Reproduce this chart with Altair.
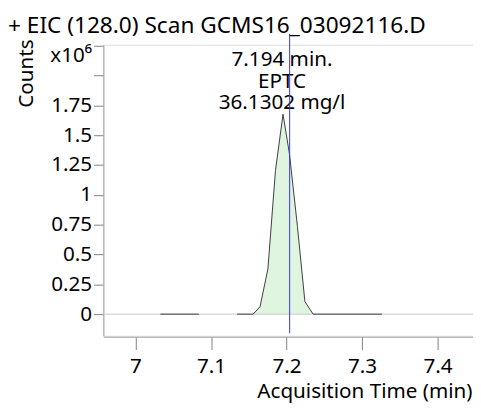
import altair as alt
import pandas as pd

# ---------------- data ----------------
chart_title = "+ EIC (128.0) Scan GCMS16_03092116.D"
x_title = "Acquisition Time (min)"
y_title = "Counts"

# EIC trace, two recorded segments (time in min, counts in 1e6)
seg1_time = [7.033, 7.084]
seg1_counts = [0.0, 0.0]
seg2_time = [7.1345, 7.1558, 7.1649, 7.1753, 7.1853, 7.1953, 7.2039, 7.2144, 7.2243, 7.2352, 7.3263]
seg2_counts = [0.0, 0.0, 0.063, 0.379, 1.203, 1.676, 1.341, 0.736, 0.105, 0.0, 0.0]

# integrated peak (filled)
peak_time = [7.1558, 7.1649, 7.1753, 7.1853, 7.1953, 7.2039, 7.2144, 7.2243, 7.2352]
peak_counts = [0.0, 0.063, 0.379, 1.203, 1.676, 1.341, 0.736, 0.105, 0.0]

marker_time = 7.2041
label_time = 7.194
label_counts = 1.676
label_lines = ["7.194 min.", "EPTC", "36.1302 mg/l"]

x_ticks = [7.0, 7.1, 7.2, 7.3, 7.4]
y_ticks = [0, 0.25, 0.5, 0.75, 1.0, 1.25, 1.5, 1.75, 2.0, 2.25]
x_domain = [6.9574, 7.4469]
y_domain = [-0.1813, 2.2583]
marker_span = [-0.16, 2.35]

FONT = "Noto Sans"

trace = pd.DataFrame({
    "time": seg1_time + seg2_time,
    "counts": seg1_counts + seg2_counts,
    "segment": ["a"] * len(seg1_time) + ["b"] * len(seg2_time),
})
peak = pd.DataFrame({"time": peak_time, "counts": peak_counts})
label_df = pd.DataFrame({"time": [label_time], "counts": [label_counts]})

xs = alt.Scale(domain=x_domain, nice=False, zero=False)
ys = alt.Scale(domain=y_domain, nice=False, zero=False)

x_axis = alt.Axis(
    values=x_ticks, format=".3~g", title=x_title, grid=False, labelOverlap=False,
    domainColor="#a0a0a0", domainWidth=1, tickColor="#808080", tickSize=13,
    labelFont=FONT, labelFontSize=21, labelColor="#000000", labelPadding=6,
    offset=1,
    titleFont=FONT, titleFontSize=21, titleFontWeight="normal", titleColor="#000000",
    titleAnchor="end", titleAlign="right", titleBaseline="alphabetic",
    titleX=375, titleY=62,
)
y_axis = alt.Axis(
    values=y_ticks, format=".3~g", title=y_title, grid=False, labelOverlap=False,
    labelExpr="datum.value == 2.25 ? 'x10⁶' : (datum.value == 2 ? '' : datum.label)",
    labelOffset={"condition": {"test": "datum.value == 2.25", "value": 10}, "value": 0},
    domainColor="#a0a0a0", domainWidth=1, tickColor="#808080", tickSize=10,
    labelFont=FONT, labelFontSize=21, labelColor="#000000", labelPadding=2,
    titleFont=FONT, titleFontSize=21, titleFontWeight="normal", titleColor="#000000",
    titleAngle=270, titleAlign="right", titleBaseline="alphabetic",
    titleX=-72, titleY=-6,
)

X = lambda: alt.X("time:Q", scale=xs, axis=x_axis)
Y = lambda: alt.Y("counts:Q", scale=ys, axis=y_axis)

area = alt.Chart(peak).mark_area(color="#dff5df", opacity=1).encode(
    x=X(), y=Y(), y2=alt.Y2Datum(0),
)

base_rule = alt.Chart(label_df).mark_rule(color="#c8c8c8", strokeWidth=1).encode(
    y=alt.YDatum(0, scale=ys, axis=y_axis),
)

line = alt.Chart(trace).mark_line(color="#3c3c3c", strokeWidth=1).encode(
    x=X(), y=Y(), detail="segment:N",
)

marker = alt.Chart(label_df).mark_rule(color="#3333ff", strokeWidth=1, opacity=1).encode(
    x=alt.XDatum(marker_time, scale=xs, axis=x_axis),
    y=alt.YDatum(marker_span[1], scale=ys, axis=y_axis),
    y2=alt.Y2Datum(marker_span[0]),
)

text_dy = [-49, -27, -5]
texts = [
    alt.Chart(label_df).mark_text(
        text=txt, dy=dy, font=FONT, fontSize=21, color="#000000",
        align="center", baseline="alphabetic",
    ).encode(x=X(), y=Y())
    for txt, dy in zip(label_lines, text_dy)
]

chart = alt.layer(area, base_rule, line, *texts, marker).properties(
    width=376,
    height=296,
    title=alt.Title(
        chart_title, anchor="start", frame="group", dx=-97, dy=31,
        font=FONT, fontSize=23, fontWeight="normal", color="#000000",
        baseline="alphabetic", offset=8,
    ),
    padding={"left": 97, "top": 34, "right": 0, "bottom": 67},
    autosize=alt.AutoSizeParams(type="none"),
).configure_view(stroke=None).configure(background="white")

chart.save("out.html", embed_options={"renderer": "svg", "actions": False})
